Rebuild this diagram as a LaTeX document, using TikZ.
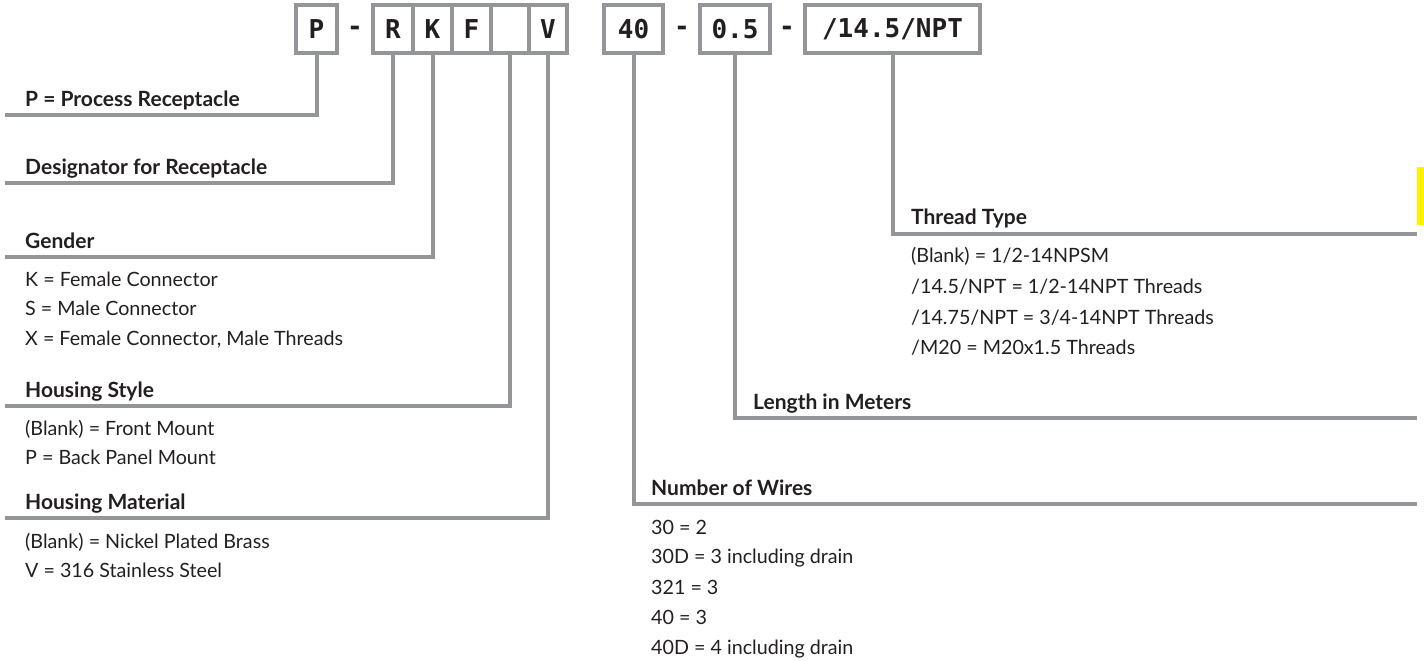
\documentclass[tikz,border=0pt]{standalone}
\usepackage{fontspec}
\setmainfont{Lato}
\newfontfamily\boxfont{DejaVu Sans Mono}
\definecolor{lg}{HTML}{939598}
\definecolor{tx}{HTML}{231F20}
\definecolor{yb}{HTML}{FFF200}
\begin{document}
\begin{tikzpicture}[x=1pt,y=-1pt,
  cbox/.style={draw=lg,line width=4pt,minimum height=48pt,inner sep=0pt,outer sep=0pt,
    font=\boxfont\bfseries\fontsize{26}{26}\selectfont,text=tx},
  dashtxt/.style={inner sep=0pt,font=\boxfont\bfseries\fontsize{26}{26}\selectfont,text=tx},
  conn/.style={draw=lg,line width=4pt},
  head/.style={anchor=base west,inner sep=0pt,font=\bfseries\fontsize{21}{21}\selectfont,text=tx},
  item/.style={anchor=base west,inner sep=0pt,font=\fontsize{19.7}{19.7}\selectfont,text=tx}]
\useasboundingbox (0,0) rectangle (1424,661);
% code boxes
\node[cbox,minimum width=41pt] (bP) at (316.5,29) {P};
\node[dashtxt] (d1) at (355,31) {-};
\node[cbox,minimum width=40pt] (bR) at (393,29) {R};
\node[cbox,minimum width=39pt] (bK) at (432.5,29) {K};
\node[cbox,minimum width=39pt] (bF) at (471.5,29) {F};
\node[cbox,minimum width=38pt] (bB) at (510,29) {};
\node[cbox,minimum width=38pt] (bV) at (548,29) {V};
\node[cbox,minimum width=59pt] (b40) at (633.5,29) {40};
\node[dashtxt] (d2) at (682,31) {-};
\node[cbox,minimum width=70pt] (b05) at (735,29) {0.5};
\node[dashtxt] (d3) at (787,31) {-};
\node[cbox,minimum width=175pt] (bN) at (892.5,29) {/14.5/NPT};
% connector ends
\coordinate (eP) at (5,115);
\coordinate (eR) at (5,183);
\coordinate (eK) at (5,257);
\coordinate (eB) at (5,406);
\coordinate (eV) at (5,518);
\coordinate (e40) at (1417,504);
\coordinate (e05) at (1417,418);
\coordinate (eN) at (1417,234);
\draw[conn] (bP.south) |- (eP);
\draw[conn] (bR.south) |- (eR);
\draw[conn] (bK.south) |- (eK);
\draw[conn] (bB.south) |- (eB);
\draw[conn] (bV.south) |- (eV);
\draw[conn] (b40.south) |- (e40);
\draw[conn] (b05.south) |- (e05);
\draw[conn] (bN.south) |- (eN);
% yellow bar
\fill[yb] (1417,167) rectangle (1424,225);
% left texts
\node[head] (hP) at (25,106) {P = Process Receptacle};
\node[head] (hR) at (25,174) {Designator for Receptacle};
\node[head] (hK) at (25,248) {Gender};
\node[item] (k1) at (25,286) {K = Female Connector};
\node[item] (k2) at (25,315) {S = Male Connector};
\node[item] (k3) at (25,345) {X = Female Connector, Male Threads};
\node[head] (hB) at (25,397) {Housing Style};
\node[item] (s1) at (25,435) {(Blank) = Front Mount};
\node[item] (s2) at (25,464) {P = Back Panel Mount};
\node[head] (hV) at (25,509) {Housing Material};
\node[item] (m1) at (25,548) {(Blank) = Nickel Plated Brass};
\node[item] (m2) at (25,577) {V = 316 Stainless Steel};
% thread
\node[head] (hN) at (911,224) {Thread Type};
\node[item] (t1) at (911,262) {(Blank) = 1/2-14NPSM};
\node[item] (t2) at (911,293) {/14.5/NPT = 1/2-14NPT Threads};
\node[item] (t3) at (911,324) {/14.75/NPT = 3/4-14NPT Threads};
\node[item] (t4) at (911,354) {/M20 = M20x1.5 Threads};
% length
\node[head] (h05) at (753,409) {Length in Meters};
% wires
\node[head] (h40) at (651,495) {Number of Wires};
\node[item] (w1) at (651,534) {30 = 2};
\node[item] (w2) at (651,563) {30D = 3 including drain};
\node[item] (w3) at (651,594) {321 = 3};
\node[item] (w4) at (651,624) {40 = 3};
\node[item] (w5) at (651,654) {40D = 4 including drain};
\end{tikzpicture}
\end{document}
